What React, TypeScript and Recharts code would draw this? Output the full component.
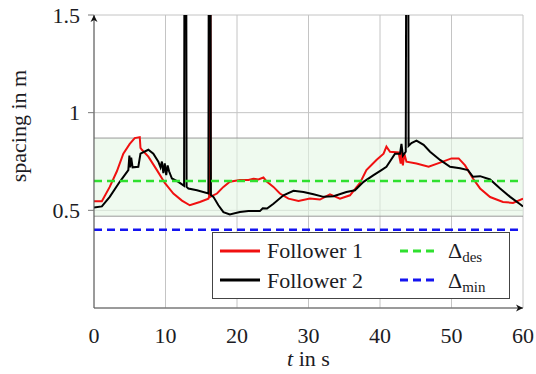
import React from "react";
import {
  LineChart,
  Line,
  XAxis,
  YAxis,
  CartesianGrid,
  ReferenceArea,
  ReferenceLine,
  ReferenceDot,
} from "recharts";

// Follower 1 (red)
const f1Time = [
  0, 1.1, 2.2, 3.2, 4.1, 5.0, 5.7, 6.4, 6.5, 6.7, 7.6, 8.8, 9.9, 11.1, 12.3, 13.4, 14.8, 16.0, 16.1, 16.15, 16.25,
  16.3, 17.2, 18.1, 19.0, 20.4, 21.6, 22.3, 23.0, 23.7, 24.2, 25.1, 26.0, 27.2, 28.6, 30.2, 31.6, 33.0, 34.4, 35.8,
  37.2, 38.1, 39.5, 40.5, 40.9, 41.4, 42.6, 42.9, 43.0, 43.2, 43.4, 43.7, 45.1, 46.8, 48.4, 50.0, 51.0, 51.9, 53.0,
  54.0, 55.4, 57.2, 58.6, 60,
];
const f1Spacing = [
  0.546, 0.546, 0.62, 0.7, 0.79, 0.84, 0.87, 0.875, 0.82, 0.81, 0.775, 0.706, 0.64, 0.586, 0.55, 0.526, 0.543, 0.56,
  0.57, 3, 3, 0.57, 0.586, 0.62, 0.646, 0.655, 0.655, 0.662, 0.658, 0.668, 0.646, 0.62, 0.586, 0.56, 0.548, 0.56,
  0.555, 0.582, 0.56, 0.577, 0.64, 0.706, 0.758, 0.79, 0.826, 0.8, 0.796, 0.74, 0.8, 0.73, 0.79, 0.749, 0.74, 0.723,
  0.744, 0.766, 0.766, 0.73, 0.663, 0.612, 0.568, 0.543, 0.538, 0.56,
];

// Follower 2 (black)
const f2Time = [
  0, 1.1, 2.2, 3.6, 4.8, 4.95, 5.05, 5.2, 5.4, 6.2, 6.5, 7.6, 8.3, 9.0, 9.3, 9.5, 9.7, 9.9, 10.1, 10.3, 10.5, 10.9,
  11.8, 12.6, 12.7, 12.85, 12.95, 13.2, 14.4, 16.0, 16.1, 16.25, 16.35, 16.7, 17.4, 18.1, 19.0, 20.4, 21.6, 23.2,
  23.6, 24.2, 25.1, 26.5, 27.9, 29.3, 30.7, 32.1, 33.5, 35.3, 36.5, 37.7, 39.1, 40.2, 40.9, 42.1, 42.8, 43.0, 43.2,
  43.6, 43.75, 43.9, 44.0, 44.4, 45.1, 46.1, 47.0, 48.4, 49.8, 51.2, 52.3, 53.0, 54.0, 55.4, 56.8, 58.2, 59.6, 60,
];
const f2Spacing = [
  0.514, 0.52, 0.569, 0.646, 0.706, 0.78, 0.72, 0.77, 0.72, 0.723, 0.79, 0.81, 0.79, 0.749, 0.72, 0.75, 0.69, 0.74,
  0.68, 0.73, 0.7, 0.663, 0.646, 0.625, 3, 3, 0.62, 0.612, 0.603, 0.586, 3, 3, 0.578, 0.569, 0.526, 0.491, 0.479,
  0.491, 0.496, 0.496, 0.51, 0.509, 0.534, 0.577, 0.6, 0.594, 0.582, 0.569, 0.572, 0.594, 0.603, 0.646, 0.68, 0.706,
  0.723, 0.79, 0.79, 0.84, 0.78, 0.8, 3, 3, 0.83, 0.844, 0.857, 0.835, 0.8, 0.758, 0.723, 0.715, 0.706, 0.672,
  0.675, 0.658, 0.612, 0.569, 0.531, 0.52,
];

const xTicks = [0, 10, 20, 30, 40, 50, 60];
const yTicks = [0.5, 1, 1.5];
const bandLow = 0.47;
const bandHigh = 0.87;
const deltaDes = 0.65;
const deltaMin = 0.4;

const follower1 = f1Time.map((t, i) => ({ t, v: f1Spacing[i] }));
const follower2 = f2Time.map((t, i) => ({ t, v: f2Spacing[i] }));

const FONT = "Liberation Serif, DejaVu Serif, serif";
const TEXT = "#1c1c24";
const textStyle = { fontFamily: FONT };

const ArrowUp = (props: any) => (
  <path d={`M${props.cx},${props.cy} l-3.5,7 l3.5,-2 l3.5,2 z`} fill="#111" />
);
const ArrowRight = (props: any) => (
  <path d={`M${props.cx},${props.cy} l-7,-3.5 l2,3.5 l-2,3.5 z`} fill="#111" />
);

function YLabel(props: any) {
  const vb = props.viewBox;
  // centred a bit above the middle of the plot, like the original
  const cx = vb.x + 18;
  const cy = vb.y + 111;
  return (
    <text
      transform={`translate(${cx},${cy}) rotate(-90)`}
      textAnchor="middle"
      dominantBaseline="central"
      style={textStyle}
      fontSize={22}
      fill={TEXT}
    >
      spacing in m
    </text>
  );
}

function XLabel(props: any) {
  const vb = props.viewBox;
  return (
    <text
      x={vb.x + vb.width / 2}
      y={vb.y + 58}
      textAnchor="middle"
      style={textStyle}
      fontSize={22}
      fill={TEXT}
    >
      <tspan fontStyle="italic">t</tspan> in s
    </text>
  );
}

function LegendBox() {
  return (
    <div
      style={{
        position: "absolute",
        left: 212,
        top: 232,
        width: 298,
        height: 67,
        border: "1px solid #444",
        background: "#fff",
        boxSizing: "border-box",
      }}
    >
      <svg width={296} height={65} style={{ display: "block" }}>
        <g style={textStyle} fontSize={22} fill={TEXT}>
          <line x1={7} x2={47} y1={18} y2={18} stroke="#f01010" strokeWidth={3} />
          <text x={54} y={25}>Follower 1</text>
          <line x1={7} x2={47} y1={47} y2={47} stroke="#000" strokeWidth={3} />
          <text x={54} y={55}>Follower 2</text>
          <line x1={187} x2={223} y1={18} y2={18} stroke="#2fe02f" strokeWidth={3} strokeDasharray="8 5" />
          <text x={235} y={25}>
            Δ<tspan fontSize={15} dy={4}>des</tspan>
          </text>
          <line x1={187} x2={223} y1={47} y2={47} stroke="#1414f0" strokeWidth={3} strokeDasharray="8 5" />
          <text x={235} y={55}>
            Δ<tspan fontSize={15} dy={4}>min</tspan>
          </text>
        </g>
      </svg>
    </div>
  );
}

export default function App() {
  return (
    <div style={{ position: "relative", width: 536, height: 374, background: "#fff", fontFamily: FONT }}>
      <style>{`body{margin:0;overflow:hidden}`}</style>
      <LineChart width={536} height={374} margin={{ top: 15, right: 13, bottom: 0, left: 0 }}>
        <CartesianGrid stroke="#c4c4c4" strokeWidth={1} />
        <ReferenceArea
          x1={0}
          x2={60}
          y1={bandLow}
          y2={bandHigh}
          fill="#e4f7e4"
          fillOpacity={0.6}
          stroke="none"
        />
        <ReferenceLine y={bandHigh} stroke="#9a9a9a" strokeWidth={1} />
        <ReferenceLine y={bandLow} stroke="#9a9a9a" strokeWidth={1} />
        <XAxis
          type="number"
          dataKey="t"
          domain={[0, 60]}
          ticks={xTicks}
          allowDataOverflow
          height={66}
          tickLine={false}
          tickMargin={13}
          axisLine={{ stroke: "#555" }}
          tick={{ fontFamily: FONT, fontSize: 22, fill: TEXT }}
          label={<XLabel />}
        />
        <YAxis
          type="number"
          dataKey="v"
          domain={[0, 1.5]}
          ticks={yTicks}
          allowDataOverflow
          width={94}
          tickSize={6}
          tickMargin={8}
          tickLine={{ stroke: "#777" }}
          axisLine={{ stroke: "#555" }}
          tick={{ fontFamily: FONT, fontSize: 22, fill: TEXT }}
          label={<YLabel />}
        />
        <Line
          data={follower1}
          dataKey="v"
          type="linear"
          stroke="#f01010"
          strokeWidth={2}
          dot={false}
          isAnimationActive={false}
        />
        <Line
          data={follower2}
          dataKey="v"
          type="linear"
          stroke="#000"
          strokeWidth={2}
          dot={false}
          isAnimationActive={false}
        />
        <ReferenceLine y={deltaDes} stroke="#2fe02f" strokeWidth={2.5} strokeDasharray="8 5" />
        <ReferenceLine y={deltaMin} stroke="#1414f0" strokeWidth={2.5} strokeDasharray="8 5" />
        <ReferenceDot x={0} y={1.5} ifOverflow="visible" shape={ArrowUp} />
        <ReferenceDot x={60} y={0} ifOverflow="visible" shape={ArrowRight} />
      </LineChart>
      <LegendBox />
    </div>
  );
}
